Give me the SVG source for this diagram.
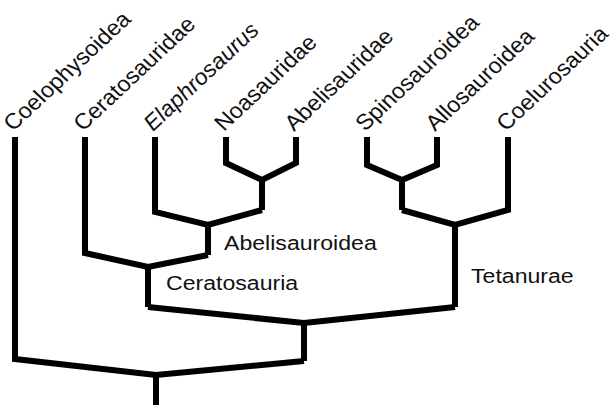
<svg xmlns="http://www.w3.org/2000/svg" width="616" height="405" viewBox="0 0 616 405">
<style>
.e{fill:none;stroke:#000;stroke-width:6;stroke-linejoin:miter;stroke-linecap:butt}
.t{font-family:"Liberation Sans",Arial,sans-serif;font-size:21px;fill:#111}
.r{font-size:22px}
.i{font-style:italic}
</style>
<rect width="616" height="405" fill="#fff"/>
<g id="connectors">
<path class="e" d="M226,137 V163 L262,180 L296,163 V137"/>
<path class="e" d="M262,180 V210"/>
<path class="e" d="M155,137 V212 L208,225 L262,210"/>
<path class="e" d="M208,225 V255"/>
<path class="e" d="M85,137 V253 L148,267 L208,255"/>
<path class="e" d="M148,267 V307"/>
<path class="e" d="M367,137 V165 L402,180 L437,165 V137"/>
<path class="e" d="M402,180 V210"/>
<path class="e" d="M402,210 L455,225 L508,210 V137"/>
<path class="e" d="M455,225 V307"/>
<path class="e" d="M148,307 L304,323 L455,307"/>
<path class="e" d="M304,323 V361"/>
<path class="e" d="M15,137 V359 L156,375 L304,361"/>
<path class="e" d="M156,375 V405"/>
</g>
<g id="coelophysoidea"><text class="t r" transform="translate(13 132) scale(1.07 1) rotate(-45)">Coelophysoidea</text></g>
<g id="ceratosauridae"><text class="t r" transform="translate(83 132) scale(1.07 1) rotate(-45)">Ceratosauridae</text></g>
<g id="elaphrosaurus"><text class="t r i" transform="translate(153 132) scale(1.07 1) rotate(-45)">Elaphrosaurus</text></g>
<g id="noasauridae"><text class="t r" transform="translate(224 132) scale(1.07 1) rotate(-45)">Noasauridae</text></g>
<g id="abelisauridae"><text class="t r" transform="translate(294 132) scale(1.07 1) rotate(-45)">Abelisauridae</text></g>
<g id="spinosauroidea"><text class="t r" transform="translate(365 132) scale(1.07 1) rotate(-45)">Spinosauroidea</text></g>
<g id="allosauroidea"><text class="t r" transform="translate(435 132) scale(1.07 1) rotate(-45)">Allosauroidea</text></g>
<g id="coelurosauria"><text class="t r" transform="translate(506 132) scale(1.07 1) rotate(-45)">Coelurosauria</text></g>
<g id="abelisauroidea"><text class="t" transform="translate(224 250) scale(1.1 1)">Abelisauroidea</text></g>
<g id="ceratosauria"><text class="t" transform="translate(166 290) scale(1.1 1)">Ceratosauria</text></g>
<g id="tetanurae"><text class="t" transform="translate(471 283) scale(1.1 1)">Tetanurae</text></g>
</svg>
